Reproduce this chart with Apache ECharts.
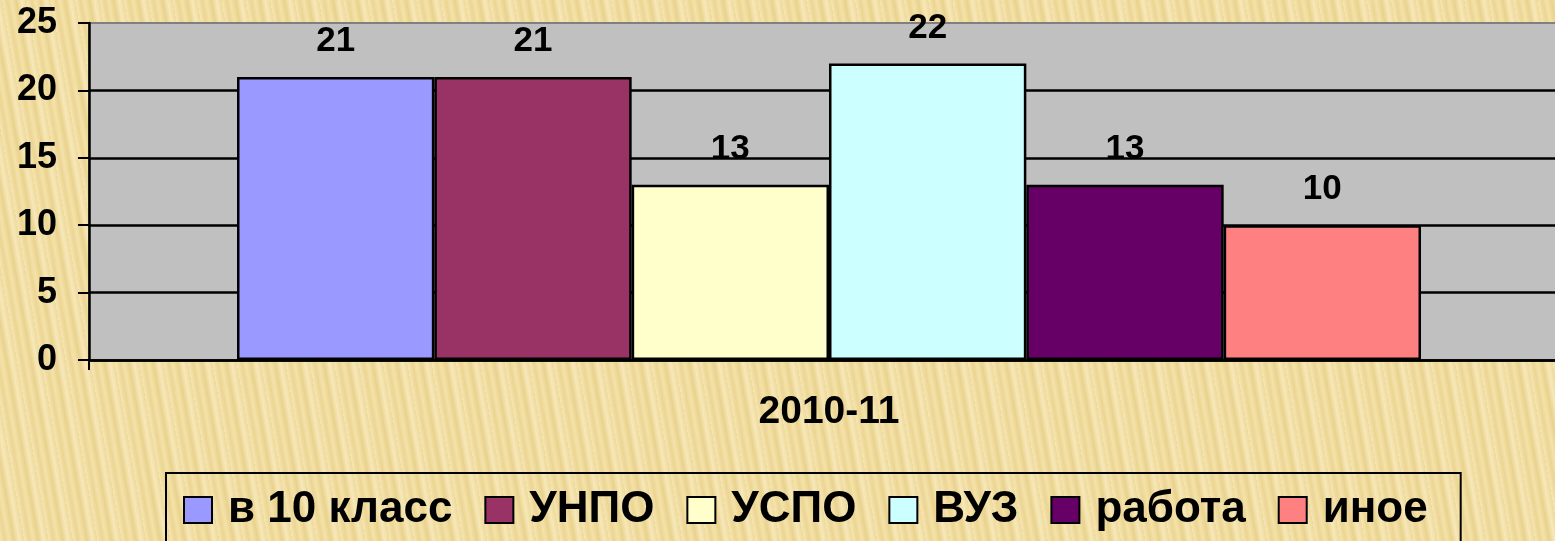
<!DOCTYPE html>
<html>
<head>
<meta charset="utf-8">
<script src="https://cdn.jsdelivr.net/npm/echarts@6/dist/echarts.min.js"></script>
<style>
  html, body {
    margin: 0;
    padding: 0;
  }
  body {
    width: 1555px;
    height: 541px;
    overflow: hidden;
    background-color: #eed99c;
    background-image: repeating-linear-gradient(80deg, #f6e6b2 0px, #ecd594 5px, #f4e2a8 9px, #e9d28e 14px, #f7e8b8 19px, #eed99c 24px);
  }
  #chart {
    width: 1555px;
    height: 541px;
  }
</style>
</head>
<body>
<div id="chart"></div>
<script>
// данные по выпускникам
const categories = ['2010-11']
const seriesNames = ['в 10 класс', 'УНПО', 'УСПО', 'ВУЗ', 'работа', 'иное']
const seriesValues = [21, 21, 13, 22, 13, 10]
const seriesColors = ['#9999ff', '#993366', '#ffffcc', '#ccffff', '#660066', '#ff8080']
const yTicks = [0, 5, 10, 15, 20, 25]

const font = "'Liberation Sans', Arial, sans-serif"

const chart = echarts.init(document.getElementById('chart'))

const series = seriesNames.map((name, i) => ({
  name: name,
  type: 'bar',
  barGap: '0%',
  barCategoryGap: '20%',
  data: [seriesValues[i]],
  itemStyle: {
    color: seriesColors[i],
    borderColor: '#000',
    borderWidth: 2.5,
  },
  label: {
    show: true,
    position: 'top',
    distance: 18,
    color: '#000',
    fontFamily: font,
    fontWeight: 'bold',
    fontSize: 35,
  },
}))

const option = {
  backgroundColor: 'transparent',
  animation: false,
  grid: {
    left: 89,
    width: 1480,
    top: 23,
    bottom: 181,
    outerBoundsMode: 'none',
    show: true,
    backgroundColor: '#c0c0c0',
    borderColor: '#808080',
    borderWidth: 2,
  },
  legend: {
    data: seriesNames,
    left: 166,
    top: 473,
    icon: 'rect',
    itemWidth: 28,
    itemHeight: 26,
    itemGap: 32,
    padding: [15, 33, 30, 17],
    borderColor: '#000',
    borderWidth: 2,
    textStyle: {
      color: '#000',
      fontFamily: font,
      fontWeight: 'bold',
      fontSize: 44,
      padding: [0, 0, 0, 11],
    },
  },
  xAxis: {
    type: 'category',
    data: categories,
    axisLine: { show: true, lineStyle: { color: '#000', width: 2.5 } },
    axisTick: { show: true, length: 10, lineStyle: { color: '#000', width: 2 } },
    axisLabel: {
      color: '#000',
      fontFamily: font,
      fontWeight: 'bold',
      fontSize: 39,
      margin: 33,
    },
  },
  yAxis: {
    type: 'value',
    min: yTicks[0],
    max: yTicks[yTicks.length - 1],
    interval: yTicks[1] - yTicks[0],
    axisLine: { show: true, lineStyle: { color: '#000', width: 2.5 } },
    axisTick: { show: true, length: 11, lineStyle: { color: '#000', width: 2 } },
    axisLabel: {
      color: '#000',
      fontFamily: font,
      fontWeight: 'bold',
      fontSize: 36,
      margin: 32,
    },
    splitLine: {
      show: true,
      showMaxLine: false,
      lineStyle: { color: '#000', width: 2.5 },
    },
  },
  series: series,
}

chart.setOption(option)
</script>
</body>
</html>
